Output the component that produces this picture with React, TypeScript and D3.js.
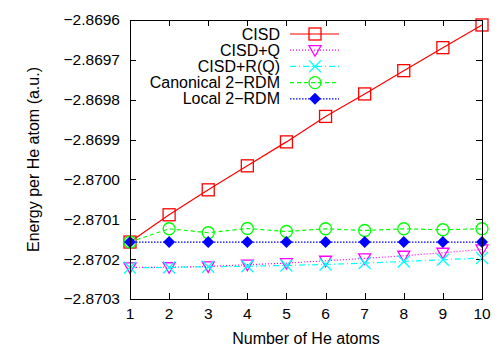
import React, { useRef, useEffect } from 'react';
import * as d3 from 'd3';

const atoms = [1, 2, 3, 4, 5, 6, 7, 8, 9, 10];
const cisd = [-2.8701571, -2.8700887, -2.8700261, -2.8699659, -2.8699058, -2.8698419, -2.8697855, -2.8697271, -2.8696694, -2.8696125];
const cisdQ = [-2.8702208, -2.8702203, -2.8702183, -2.870214, -2.8702098, -2.870204, -2.8701982, -2.8701915, -2.870184, -2.8701757];
const cisdRQ = [-2.8702216, -2.8702208, -2.870219, -2.8702178, -2.8702158, -2.8702133, -2.8702098, -2.8702058, -2.8702015, -2.8701972];
const canonical = [-2.8701571, -2.8701238, -2.8701338, -2.8701231, -2.8701306, -2.8701238, -2.8701281, -2.8701238, -2.8701263, -2.8701238];
const local = [-2.8701571, -2.8701571, -2.8701571, -2.8701571, -2.8701571, -2.8701571, -2.8701571, -2.8701571, -2.8701571, -2.8701571];
const yTicks = [-2.8703, -2.8702, -2.8701, -2.87, -2.8699, -2.8698, -2.8697, -2.8696];

const series = [
    { name: 'CISD', values: cisd, color: '#ff0000', dash: null, marker: 'square' },
    { name: 'CISD+Q', values: cisdQ, color: '#ff00ff', dash: '1,2', marker: 'tri' },
    { name: 'CISD+R(Q)', values: cisdRQ, color: '#00ffff', dash: '6,3,1,3', marker: 'x' },
    { name: 'Canonical 2\u2212RDM', values: canonical, color: '#00ff00', dash: '4,3', marker: 'circle' },
    { name: 'Local 2\u2212RDM', values: local, color: '#0000ff', dash: '1.5,1.5', marker: 'diamond' },
];

const App = () => {
    const chartRef = useRef(null);

    useEffect(() => {
        const width = 500;
        const height = 350;
        const left = 130, right = 482, top = 20, bottom = 299;
        const font = 'Liberation Sans, Arial, sans-serif';

        const svg = d3.select(chartRef.current).attr('width', width).attr('height', height);
        svg.selectAll('*').remove();
        svg.append('rect').attr('width', width).attr('height', height).attr('fill', '#fff');

        const x = d3.scaleLinear().domain([1, 10]).range([left, right]);
        const y = d3.scaleLinear().domain([-2.8703, -2.8696]).range([bottom, top]);

        const marker = (g, type, color) => {
            if (type === 'square') {
                g.append('rect').attr('x', -6).attr('y', -6).attr('width', 12).attr('height', 12)
                    .attr('fill', 'none').attr('stroke', color).attr('stroke-width', 1.3);
            } else if (type === 'tri') {
                g.append('path').attr('d', 'M-6,-4.5L6,-4.5L0,6Z')
                    .attr('fill', 'none').attr('stroke', color).attr('stroke-width', 1.3);
            } else if (type === 'x') {
                g.append('path').attr('d', 'M-6,-6L6,6M-6,6L6,-6')
                    .attr('fill', 'none').attr('stroke', color).attr('stroke-width', 1.3);
            } else if (type === 'circle') {
                g.append('circle').attr('r', 6)
                    .attr('fill', 'none').attr('stroke', color).attr('stroke-width', 1.3);
            } else {
                g.append('path').attr('d', 'M0,-6L6,0L0,6L-6,0Z').attr('fill', color);
            }
        };

        // tick marks on all four sides
        const ticks = svg.append('g').attr('stroke', '#000').attr('stroke-width', 1);
        yTicks.forEach(t => {
            const yy = Math.round(y(t)) + 0.5;
            ticks.append('line').attr('x1', left).attr('x2', left + 6).attr('y1', yy).attr('y2', yy);
            ticks.append('line').attr('x1', right).attr('x2', right - 6).attr('y1', yy).attr('y2', yy);
            svg.append('text').attr('x', left - 10).attr('y', y(t)).attr('dy', '0.35em')
                .attr('text-anchor', 'end').attr('font-family', font).attr('font-size', 15.5)
                .text(d3.format('.4f')(t).replace('-', '\u2212'));
        });
        atoms.forEach(t => {
            const xx = Math.round(x(t)) + 0.5;
            ticks.append('line').attr('x1', xx).attr('x2', xx).attr('y1', bottom).attr('y2', bottom - 6);
            ticks.append('line').attr('x1', xx).attr('x2', xx).attr('y1', top).attr('y2', top + 6);
            svg.append('text').attr('x', x(t)).attr('y', bottom + 20)
                .attr('text-anchor', 'middle').attr('font-family', font).attr('font-size', 15.5)
                .text(t);
        });

        const line = d3.line().x((d, i) => x(atoms[i])).y(d => y(d));
        series.forEach(s => {
            svg.append('path').datum(s.values).attr('d', line)
                .attr('fill', 'none').attr('stroke', s.color).attr('stroke-width', 1.2)
                .attr('stroke-dasharray', s.dash);
            s.values.forEach((v, i) => {
                marker(svg.append('g').attr('transform', `translate(${x(atoms[i])},${y(v)})`), s.marker, s.color);
            });
        });

        // legend
        series.forEach((s, i) => {
            const ly = 34 + i * 16.2;
            svg.append('text').attr('x', 280).attr('y', ly).attr('dy', '0.35em')
                .attr('text-anchor', 'end').attr('font-family', font).attr('font-size', 16)
                .text(s.name);
            svg.append('line').attr('x1', 290).attr('x2', 339).attr('y1', ly).attr('y2', ly)
                .attr('stroke', s.color).attr('stroke-width', 1.2).attr('stroke-dasharray', s.dash);
            marker(svg.append('g').attr('transform', `translate(315,${ly})`), s.marker, s.color);
        });

        svg.append('rect').attr('x', left + 0.5).attr('y', top + 0.5)
            .attr('width', right - left).attr('height', bottom - top)
            .attr('fill', 'none').attr('stroke', '#000').attr('stroke-width', 1);

        svg.append('text').attr('x', (left + right) / 2).attr('y', 344)
            .attr('text-anchor', 'middle').attr('font-family', font).attr('font-size', 16)
            .text('Number of He atoms');
        svg.append('text').attr('transform', `translate(33,${(top + bottom) / 2}) rotate(-90)`)
            .attr('dy', '0.35em').attr('text-anchor', 'middle').attr('font-family', font).attr('font-size', 16)
            .text('Energy per He atom (a.u.)');
    }, []);

    return <svg ref={chartRef} style={{ position: 'absolute', left: 0, top: 0 }}></svg>;
};

export default App;
